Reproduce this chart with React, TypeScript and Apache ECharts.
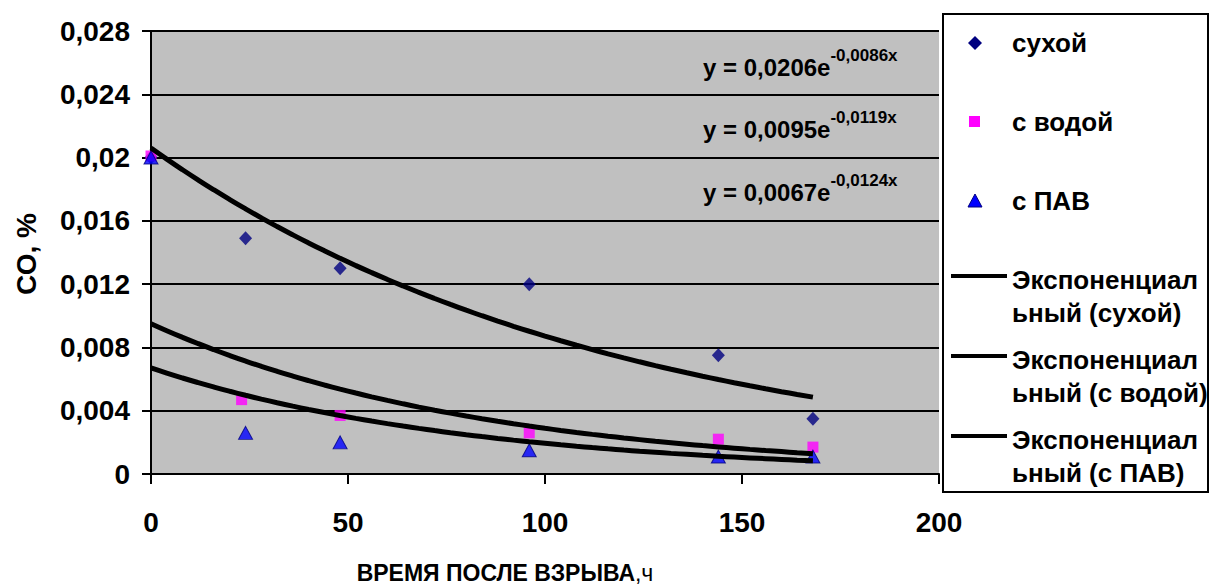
import React, { useEffect, useRef } from "react";
import * as echarts from "echarts";

// Observations (time after explosion, h ; CO, %)
const dryX = [0, 24, 48, 96, 144, 168];
const dryY = [0.02, 0.0149, 0.013, 0.012, 0.0075, 0.0035];
const waterX = [0, 23, 48, 96, 144, 168];
const waterY = [0.0201, 0.0047, 0.0037, 0.0026, 0.0022, 0.0017];
const pavX = [0, 24, 48, 96, 144, 168];
const pavY = [0.02, 0.0026, 0.002, 0.0015, 0.0011, 0.0011];

// Exponential trend lines shown on the chart: y = a * e^(b x)
const trendA = [0.0206, 0.0095, 0.0067];
const trendB = [-0.0086, -0.0119, -0.0124];
const trendNames = ["Экспоненциальный (сухой)", "Экспоненциальный (с водой)", "Экспоненциальный (с ПАВ)"];
const trendRange = [0, 168];

const xTicks = [0, 50, 100, 150, 200];
const yMax = 0.028;
const yStep = 0.004;

const FONT = "Liberation Sans, Arial, sans-serif";

function pairs(xs: number[], ys: number[]) {
  return xs.map((x, i) => [x, ys[i]]);
}

function trend(a: number, b: number) {
  const pts: number[][] = [];
  for (let x = trendRange[0]; x <= trendRange[1]; x += 4) pts.push([x, a * Math.exp(b * x)]);
  return pts;
}

function fmtEq(a: number, b: number) {
  const s = (v: number) => String(v).replace(".", ",");
  return { main: "y = " + s(a) + "e", sup: s(b) + "x" };
}

export default function App() {
  const ref = useRef<HTMLDivElement>(null);
  useEffect(() => {
    document.body.style.margin = "0";
    if (!ref.current) return;
    const chart = echarts.init(ref.current, null, { renderer: "svg" });

    const eqY = [63, 125, 188];
    const eqGraphics = trendA.map((a, i) => {
      const e = fmtEq(a, trendB[i]);
      return {
        type: "text",
        x: 703,
        y: eqY[i],
        z: 100,
        style: {
          text: "{m|" + e.main + "}{s|" + e.sup + "}",
          textVerticalAlign: "middle",
          rich: {
            m: { font: "bold 24px " + FONT, fill: "#000", verticalAlign: "bottom", lineHeight: 32 },
            s: { font: "bold 17px " + FONT, fill: "#000", verticalAlign: "top", lineHeight: 32 },
          },
        },
      };
    });

    const legendItems: any[] = [];
    const textX = 1012;
    const lf = "bold 26px " + FONT;
    legendItems.push({
      type: "rect",
      shape: { x: 943, y: 14, width: 265, height: 478 },
      style: { fill: "#fff", stroke: "#000", lineWidth: 2 },
      z: 50,
    });
    legendItems.push({
      type: "polygon",
      shape: { points: [[975, 36], [982, 43], [975, 50], [968, 43]] },
      style: { fill: "#000080" },
      z: 51,
    });
    legendItems.push({
      type: "rect",
      shape: { x: 969, y: 116, width: 11, height: 11 },
      style: { fill: "#FF00FF" },
      z: 51,
    });
    legendItems.push({
      type: "polygon",
      shape: { points: [[975, 194], [982, 207], [968, 207]] },
      style: { fill: "#0000FF", stroke: "#000080", lineWidth: 1 },
      z: 51,
    });
    const scNames = ["сухой", "с водой", "с ПАВ"];
    const scY = [43, 122, 201];
    scNames.forEach((n, i) =>
      legendItems.push({
        type: "text",
        x: textX,
        y: scY[i],
        z: 51,
        style: { text: n, font: lf, fill: "#000", textVerticalAlign: "middle" },
      })
    );
    const lnY = [276, 356, 436];
    trendNames.forEach((n, i) => {
      legendItems.push({
        type: "line",
        shape: { x1: 951, y1: lnY[i], x2: 1007, y2: lnY[i] },
        style: { stroke: "#000", lineWidth: 4 },
        z: 51,
      });
      const cut = "Экспоненциал".length;
      legendItems.push({
        type: "text",
        x: textX,
        y: lnY[i] + 4,
        z: 51,
        style: { text: n.slice(0, cut), font: lf, fill: "#000", textVerticalAlign: "middle" },
      });
      legendItems.push({
        type: "text",
        x: textX,
        y: lnY[i] + 37,
        z: 51,
        style: { text: n.slice(cut), font: lf, fill: "#000", textVerticalAlign: "middle" },
      });
    });

    const option: any = {
      animation: false,
      backgroundColor: "#fff",
      grid: {
        left: 151,
        right: 271,
        top: 31,
        bottom: 112,
        show: true,
        backgroundColor: "#C0C0C0",
        borderWidth: 0,
      },
      xAxis: {
        type: "value",
        min: xTicks[0],
        max: xTicks[xTicks.length - 1],
        interval: xTicks[1] - xTicks[0],
        axisLine: { show: true, onZero: false, lineStyle: { color: "#000", width: 2 } },
        axisTick: { show: true, inside: false, length: 10, lineStyle: { color: "#000", width: 2 } },
        splitLine: { show: false },
        axisLabel: { fontFamily: FONT, fontWeight: "bold", fontSize: 28, color: "#000", margin: 34 },
      },
      yAxis: {
        type: "value",
        min: 0,
        max: yMax,
        interval: yStep,
        axisLine: { show: true, lineStyle: { color: "#000", width: 2 } },
        axisTick: { show: true, inside: false, length: 9, lineStyle: { color: "#000", width: 2 } },
        splitLine: { show: true, lineStyle: { color: "#000", width: 2 } },
        axisLabel: {
          fontFamily: FONT,
          fontWeight: "bold",
          fontSize: 28,
          color: "#000",
          margin: 21,
          formatter: (v: number) => String(Number(v.toFixed(4))).replace(".", ","),
        },
      },
      graphic: [
        ...eqGraphics,
        ...legendItems,
        {
          type: "text",
          x: 505,
          y: 573,
          style: {
            text: "{b|ВРЕМЯ ПОСЛЕ ВЗРЫВА}{n|,ч}",
            textAlign: "center",
            textVerticalAlign: "middle",
            rich: {
              b: { font: "bold 23px " + FONT, fill: "#000" },
              n: { font: "23px " + FONT, fill: "#000" },
            },
          },
        },
        {
          type: "text",
          x: 26,
          y: 254,
          rotation: Math.PI / 2,
          style: {
            text: "СО, %",
            font: "bold 28px " + FONT,
            fill: "#000",
            textAlign: "center",
            textVerticalAlign: "middle",
          },
        },
      ],
      series: [
        {
          name: "сухой",
          type: "scatter",
          data: pairs(dryX, dryY),
          symbol: "diamond",
          symbolSize: [13, 14],
          itemStyle: { color: "#000080" },
          z: 2,
        },
        {
          name: "с водой",
          type: "scatter",
          data: pairs(waterX, waterY),
          symbol: "rect",
          symbolSize: 11,
          itemStyle: { color: "#FF00FF" },
          z: 3,
        },
        {
          name: "с ПАВ",
          type: "scatter",
          data: pairs(pavX, pavY),
          symbol: "triangle",
          symbolSize: [14, 13],
          itemStyle: { color: "#0000FF", borderColor: "#000080", borderWidth: 1 },
          z: 4,
        },
        ...trendA.map((a, i) => ({
          name: trendNames[i],
          type: "line",
          data: trend(a, trendB[i]),
          showSymbol: false,
          symbol: "none",
          smooth: true,
          lineStyle: { color: "#000", width: 5 },
          z: 5,
        })),
      ],
    };
    chart.setOption(option);
    return () => chart.dispose();
  }, []);
  return <div ref={ref} style={{ width: 1210, height: 586 }} />;
}
